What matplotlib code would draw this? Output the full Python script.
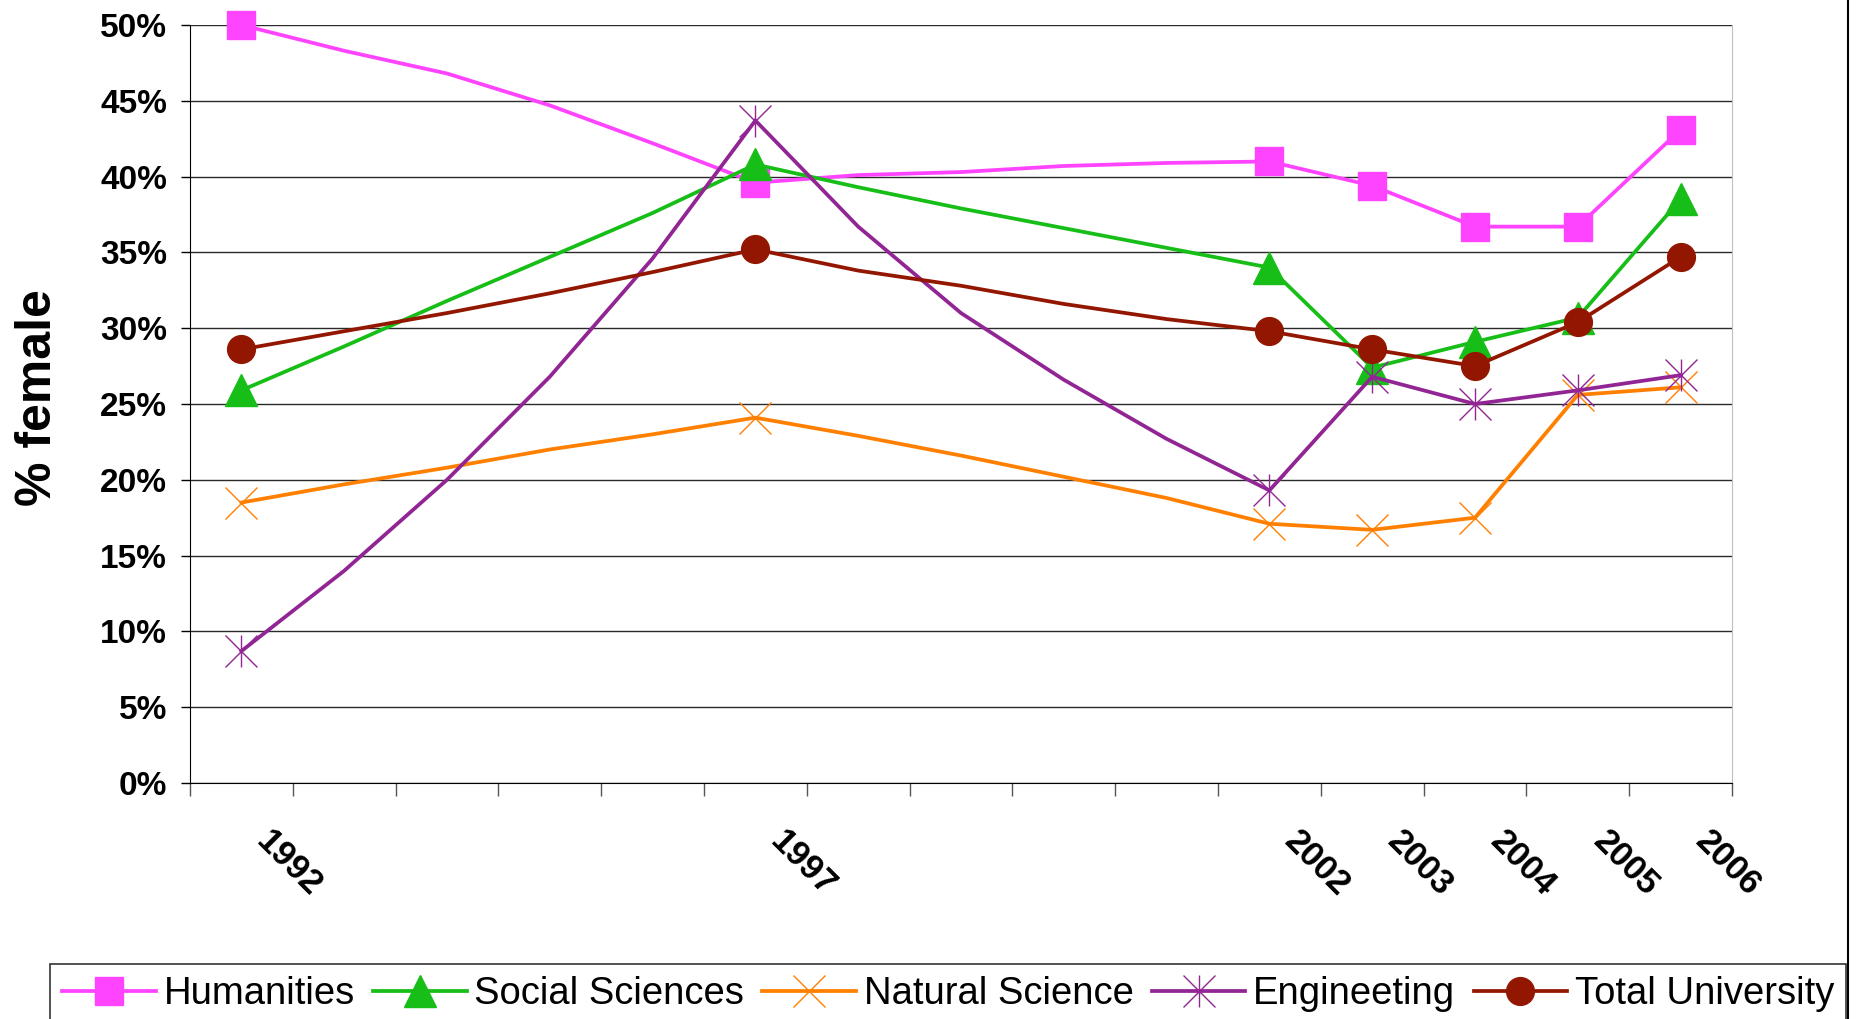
import matplotlib
matplotlib.use("Agg")
import matplotlib.pyplot as plt
import matplotlib.transforms as mtransforms
from matplotlib.lines import Line2D
from matplotlib.path import Path
import numpy as np

plt.rcParams["font.family"] = ["Liberation Sans", "DejaVu Sans"]

# ----------------------------------------------------------------- data
YEARS = list(range(1992, 2007))
YEAR_LABELS = ["1992", "", "", "", "", "1997", "", "", "", "",
               "2002", "2003", "2004", "2005", "2006"]
MARKED = [0, 5, 10, 11, 12, 13, 14]  # categories that carry a marker

humanities = [50.0, 48.3, 46.8, 44.7, 42.2, 39.6, 40.1, 40.3, 40.7, 40.9,
              41.0, 39.4, 36.7, 36.7, 43.1]
social = [25.9, 28.8, 31.8, 34.7, 37.6, 40.8, 39.3, 37.9, 36.6, 35.3,
          34.0, 27.4, 29.1, 30.7, 38.5]
natural = [18.5, 19.7, 20.8, 22.0, 23.0, 24.1, 22.9, 21.6, 20.2, 18.8,
           17.1, 16.7, 17.5, 25.6, 26.1]
engineering = [8.7, 14.0, 20.0, 26.8, 34.6, 43.7, 36.7, 31.0, 26.6, 22.7,
               19.3, 26.8, 25.0, 25.9, 26.9]
total = [28.6, 29.8, 31.0, 32.3, 33.7, 35.2, 33.8, 32.8, 31.6, 30.6,
         29.8, 28.6, 27.5, 30.4, 34.7]

# asterisk marker: an X with a vertical bar through it
star = Path([(-1, -1), (1, 1), (-1, 1), (1, -1), (0, -1), (0, 1)],
            [Path.MOVETO, Path.LINETO, Path.MOVETO, Path.LINETO,
             Path.MOVETO, Path.LINETO])

SERIES = [
    ("Humanities", humanities, "#FF44FF", "s", 20),
    ("Social Sciences", social, "#18BE18", "^", 23),
    ("Natural Science", natural, "#FF8000", "x", 23),
    ("Engineeting", engineering, "#922594", star, 23),
    ("Total University", total, "#931700", "o", 20),
]

# ----------------------------------------------------------------- figure
fig = plt.figure(figsize=(18.6, 10.19), dpi=100)
ax = fig.add_axes([190 / 1860, 1 - 783 / 1019, 1542 / 1860, 758 / 1019])

x = np.arange(len(YEARS))
handles = []
for name, vals, col, mk, ms in SERIES:
    (h,) = ax.plot(x, vals, color=col, lw=2.7, marker=mk, markersize=ms,
                   markevery=MARKED, markerfacecolor=col, markeredgecolor=col,
                   markeredgewidth=1.0, label=name, solid_joinstyle="miter",
                   clip_on=False)
    handles.append(h)

ax.set_xlim(-0.5, len(YEARS) - 0.5)
ax.set_ylim(0, 50)

# horizontal gridlines every 5%
ax.set_yticks(np.arange(0, 51, 5))
ax.set_yticklabels([f"{v:.0f}%" for v in np.arange(0, 51, 5)],
                   fontsize=24, fontweight="bold")
ax.yaxis.grid(True, color="#2a2a2a", lw=1.0)
ax.set_axisbelow(True)
ax.tick_params(axis="y", length=6.5, width=1, pad=10, color="black")

# category boundaries as ticks, year labels at the centres
ax.set_xticks(np.arange(-0.5, len(YEARS), 1))
ax.set_xticklabels([])
ax.tick_params(axis="x", which="major", length=9.5, width=1, color="#555555")
ax.set_xticks(x, minor=True)
ax.set_xticklabels(YEAR_LABELS, minor=True, rotation=-45, fontsize=25,
                   fontweight="bold", ha="left", va="top",
                   rotation_mode="anchor")
ax.tick_params(axis="x", which="minor", length=0, pad=0)
shift = mtransforms.ScaledTranslation(32 / 100, -42 / 100, fig.dpi_scale_trans)
for lab in ax.get_xticklabels(minor=True):
    lab.set_transform(lab.get_transform() + shift)

ax.spines["top"].set_visible(False)
ax.spines["right"].set_color("#c0c0c0")
ax.spines["left"].set_color("black")
ax.spines["bottom"].set_color("black")

ax.set_ylabel("% female", fontsize=36, fontweight="bold")
ax.yaxis.set_label_coords((38 - 190) / 1542, 0.509)
ax.yaxis.label.set_verticalalignment("center")

leg = fig.legend(handles=handles, loc="upper left",
                 bbox_to_anchor=(50 / 1860, 1 - 964 / 1019),
                 bbox_transform=fig.transFigure, ncol=5, fontsize=27.5,
                 frameon=True, fancybox=False, borderaxespad=0,
                 borderpad=0.32, handlelength=2.45, handletextpad=0.2,
                 columnspacing=0.48)
leg.get_frame().set_edgecolor("black")
leg.get_frame().set_linewidth(1.2)

# outer chart border on the right
fig.add_artist(Line2D([1848 / 1860] * 2, [0, 1], transform=fig.transFigure,
                      color="black", lw=1.5))

fig.savefig("out.png", dpi=100)
